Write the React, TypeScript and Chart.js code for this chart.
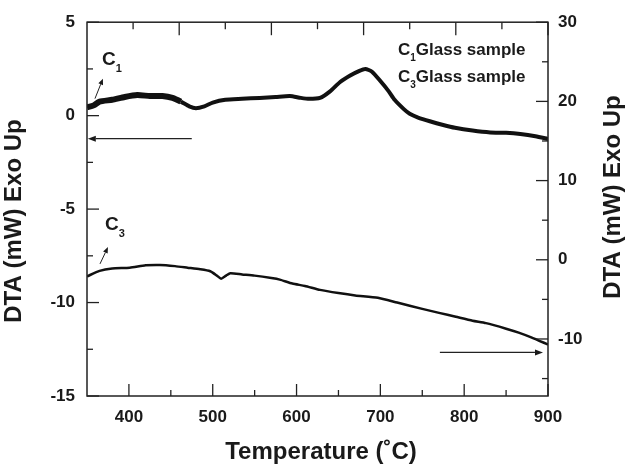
import React, { useEffect, useRef } from "react";
import { Chart, registerables } from "chart.js";

Chart.register(...registerables);

// ---- data ----
const c1Temps = [350, 358, 365, 380, 395, 410, 425, 440, 452, 462, 472, 480, 490, 500, 515, 535, 556, 575, 592, 605, 615, 628, 640, 652, 664, 675, 682, 690, 700, 710, 717, 728, 735, 745, 759, 775, 789, 810, 831, 850, 867, 885, 900];
const c1Values = [0.45, 0.55, 0.75, 0.85, 1.0, 1.1, 1.05, 1.05, 0.95, 0.75, 0.5, 0.4, 0.5, 0.7, 0.85, 0.9, 0.95, 1.0, 1.05, 0.95, 0.9, 0.95, 1.3, 1.8, 2.15, 2.4, 2.5, 2.35, 1.85, 1.3, 0.85, 0.35, 0.1, -0.1, -0.3, -0.5, -0.65, -0.8, -0.9, -0.92, -0.98, -1.1, -1.25];

const c3Temps = [350, 365, 380, 401, 420, 437, 455, 470, 485, 497, 505, 510, 516, 521, 535, 550, 570, 580, 595, 610, 628, 650, 670, 697, 720, 750, 770, 790, 810, 826, 850, 865, 880, 900];
const c3Values = [-2.1, -1.4, -1.1, -1.0, -0.7, -0.65, -0.8, -1.0, -1.2, -1.45, -2.0, -2.4, -2.0, -1.7, -1.85, -2.0, -2.3, -2.5, -3.0, -3.3, -3.8, -4.2, -4.5, -4.8, -5.4, -6.2, -6.7, -7.2, -7.7, -8.0, -8.7, -9.2, -9.8, -10.7];

const xTicks = [400, 500, 600, 700, 800, 900];
const xMinorTicks = [450, 550, 650, 750, 850];
const leftTicks = [-15, -10, -5, 0, 5];
const leftMinorTicks = [-12.5, -7.5, -2.5, 2.5];
const rightTicks = [-10, 0, 10, 20, 30];
const rightMinorTicks = [-15, -5, 5, 15, 25];
const topTicks = [20, 40, 60, 80, 100];
const topMinorTicks = [10, 30, 50, 70, 90];

const leftTitle = "DTA (mW) Exo Up";
const rightTitle = "DTA (mW) Exo Up";
const xTitle = "Temperature (\u02DAC)";
const legendItems = [
  { main: "C", sub: "1", rest: "Glass sample" },
  { main: "C", sub: "3", rest: "Glass sample" },
];

const FONT = '"Liberation Sans", Arial, sans-serif';
const INK = "#1a1a1a";

const annotPlugin = {
  id: "annot",
  afterDatasetsDraw(chart: any) {
    const { ctx, chartArea, scales } = chart;
    const { left, right, top, bottom } = chartArea;
    const x = scales.x, y = scales.y, y2 = scales.y2, xt = scales.x2;
    ctx.save();
    ctx.strokeStyle = "#222";
    ctx.fillStyle = INK;
    ctx.lineWidth = 1.5;
    ctx.strokeRect(left, top, right - left, bottom - top);
    ctx.lineWidth = 1.3;
    const seg = (a: number, b: number, c: number, d: number) => {
      ctx.beginPath();
      ctx.moveTo(a, b);
      ctx.lineTo(c, d);
      ctx.stroke();
    };
    xTicks.forEach((v) => { const p = x.getPixelForValue(v); seg(p, bottom, p, bottom - 12); });
    xMinorTicks.forEach((v) => { const p = x.getPixelForValue(v); seg(p, bottom, p, bottom - 6); });
    topTicks.forEach((v) => { const p = xt.getPixelForValue(v); seg(p, top, p, top + 13); });
    topMinorTicks.forEach((v) => { const p = xt.getPixelForValue(v); seg(p, top, p, top + 7); });
    leftTicks.forEach((v) => { const p = y.getPixelForValue(v); seg(left, p, left + 12, p); });
    leftMinorTicks.forEach((v) => { const p = y.getPixelForValue(v); seg(left, p, left + 6, p); });
    rightTicks.forEach((v) => { const p = y2.getPixelForValue(v); seg(right, p, right - 12, p); });
    rightMinorTicks.forEach((v) => { const p = y2.getPixelForValue(v); seg(right, p, right - 6, p); });

    const arrow = (x0: number, y0: number, x1: number, y1: number, hl: number, hw: number, lw: number) => {
      ctx.lineWidth = lw;
      const ang = Math.atan2(y1 - y0, x1 - x0);
      const bx = x1 - hl * Math.cos(ang), by = y1 - hl * Math.sin(ang);
      seg(x0, y0, bx, by);
      ctx.beginPath();
      ctx.moveTo(x1, y1);
      ctx.lineTo(bx + hw * Math.sin(ang), by - hw * Math.cos(ang));
      ctx.lineTo(bx - hw * Math.sin(ang), by + hw * Math.cos(ang));
      ctx.closePath();
      ctx.fill();
    };
    // long arrows indicating axes
    arrow(x.getPixelForValue(475), y.getPixelForValue(-1.23), x.getPixelForValue(351), y.getPixelForValue(-1.23), 8, 3, 1.2);
    arrow(x.getPixelForValue(771), y2.getPixelForValue(-11.7), x.getPixelForValue(894), y2.getPixelForValue(-11.7), 8, 3, 1.2);
    // small label arrows
    arrow(x.getPixelForValue(359.5), y.getPixelForValue(0.91), x.getPixelForValue(369), y.getPixelForValue(1.98), 6, 2.5, 1);
    arrow(x.getPixelForValue(365.5), y2.getPixelForValue(-0.52), x.getPixelForValue(375), y2.getPixelForValue(1.6), 6, 2.5, 1);

    const subText = (px: number, base: number, main: string, sub: string, rest: string, size: number, subSize: number, drop: number) => {
      ctx.textAlign = "left";
      ctx.textBaseline = "alphabetic";
      ctx.font = `bold ${size}px ${FONT}`;
      ctx.fillText(main, px, base);
      let cx = px + ctx.measureText(main).width;
      ctx.font = `bold ${subSize}px ${FONT}`;
      ctx.fillText(sub, cx, base + drop);
      cx += ctx.measureText(sub).width;
      if (rest) {
        ctx.font = `bold ${size}px ${FONT}`;
        ctx.fillText(rest, cx, base);
      }
    };
    subText(102, 65, "C", "1", "", 19, 11, 7);
    subText(105, 230, "C", "3", "", 19, 11, 7);
    subText(398, 55, legendItems[0].main, legendItems[0].sub, legendItems[0].rest, 17, 10, 6);
    subText(398, 82, legendItems[1].main, legendItems[1].sub, legendItems[1].rest, 17, 10, 6);

    // axis titles
    ctx.font = `bold 24px ${FONT}`;
    ctx.textAlign = "center";
    ctx.textBaseline = "middle";
    ctx.fillText(xTitle, 321, 452);
    ctx.save();
    ctx.translate(14, 221);
    ctx.rotate(-Math.PI / 2);
    ctx.fillText(leftTitle, 0, 0);
    ctx.restore();
    ctx.save();
    ctx.translate(613, 197);
    ctx.rotate(-Math.PI / 2);
    ctx.fillText(rightTitle, 0, 0);
    ctx.restore();
    ctx.restore();
  },
};

export default function App() {
  const ref = useRef<HTMLCanvasElement | null>(null);
  useEffect(() => {
    if (!ref.current) return;
    const tickFont = { family: FONT, size: 17, weight: "bold" as const };
    const chart = new Chart(ref.current, {
      type: "line",
      data: {
        datasets: [
          {
            label: "C1",
            data: c1Temps.map((t, i) => ({ x: t, y: c1Values[i] })),
            yAxisID: "y",
            xAxisID: "x",
            borderColor: "#111",
            borderWidth: 4,
            pointRadius: 0,
            tension: 0.2,
            segment: { borderWidth: (c: any) => (c.p0.parsed.x < 460 ? 6 : 4) },
          },
          {
            label: "C3",
            data: c3Temps.map((t, i) => ({ x: t, y: c3Values[i] })),
            yAxisID: "y2",
            xAxisID: "x",
            borderColor: "#111",
            borderWidth: 2.5,
            pointRadius: 0,
            tension: 0.2,
          },
        ],
      },
      options: {
        animation: false,
        responsive: true,
        maintainAspectRatio: false,
        layout: { padding: { left: 0, right: 0, top: 22, bottom: 0 } },
        plugins: { legend: { display: false }, tooltip: { enabled: false } },
        scales: {
          x: {
            type: "linear",
            position: "bottom",
            min: 350,
            max: 900,
            grid: { display: false, drawTicks: false },
            border: { display: false },
            ticks: { font: tickFont, color: INK, padding: 11, maxRotation: 0 },
            afterBuildTicks: (s: any) => { s.ticks = xTicks.map((v) => ({ value: v })); },
            afterFit: (s: any) => { s.height = 71; },
          },
          x2: {
            type: "linear",
            position: "top",
            min: 0,
            max: 100,
            grid: { display: false, drawTicks: false },
            border: { display: false },
            ticks: { display: false },
            afterFit: (s: any) => { s.height = 0; },
          },
          y: {
            type: "linear",
            position: "left",
            min: -15,
            max: 5,
            grid: { display: false, drawTicks: false },
            border: { display: false },
            ticks: { font: tickFont, color: INK, padding: 12 },
            afterBuildTicks: (s: any) => { s.ticks = leftTicks.map((v) => ({ value: v })); },
            afterFit: (s: any) => { s.width = 87; },
          },
          y2: {
            type: "linear",
            position: "right",
            min: -17.2,
            max: 30,
            grid: { display: false, drawTicks: false },
            border: { display: false },
            ticks: { font: tickFont, color: INK, padding: 10 },
            afterBuildTicks: (s: any) => { s.ticks = rightTicks.map((v) => ({ value: v })); },
            afterFit: (s: any) => { s.width = 80; },
          },
        },
      },
      plugins: [annotPlugin],
    });
    return () => chart.destroy();
  }, []);
  return (
    <div style={{ position: "absolute", left: 0, top: 0, width: 628, height: 467, background: "#fff" }}>
      <canvas ref={ref} />
    </div>
  );
}
